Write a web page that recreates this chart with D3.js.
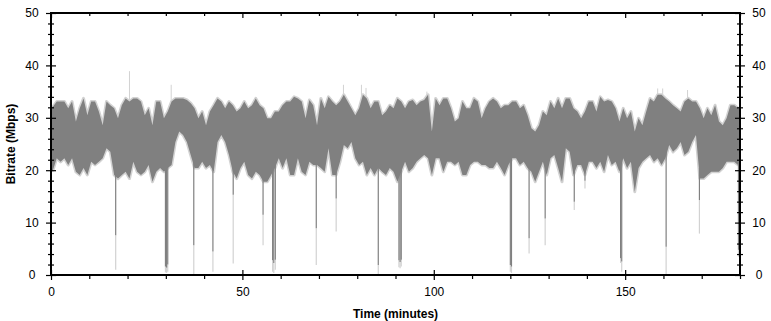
<!DOCTYPE html>
<html><head><meta charset="utf-8">
<script src="https://cdn.jsdelivr.net/npm/d3@7"></script>
<style>body{margin:0;background:#fff}svg{display:block}text{font-family:Arial,"Liberation Sans",sans-serif}</style>
</head><body><svg id="c" width="771" height="321"></svg>
<script>
// per-minute maximum of the dark trace (Mbps), minute 0..179
const hi = [32.1,33.1,33.1,33.1,31.8,33.1,29.3,31.8,33.7,30.5,33.1,33.1,31.2,28.6,33.1,32.4,31.8,29.9,32.4,33.7,33.1,33.7,33.7,33.1,30.5,31.8,28.6,33.1,33.1,29.9,
31.2,33.1,33.7,33.7,33.7,33.4,32.8,31.8,29.9,31.2,28.6,31.2,32.4,33.7,33.1,31.8,33.1,32.4,31.2,31.8,33.1,31.8,32.4,33.7,32.4,31.8,29.9,29.9,31.2,31.2,
32.4,33.1,33.1,34.0,33.7,33.1,29.9,33.4,32.4,28.6,33.7,31.8,34.0,33.1,32.4,33.1,34.4,33.1,31.8,30.5,31.8,34.4,33.7,31.8,33.1,33.1,30.5,31.2,32.4,31.8,
33.7,33.1,31.8,33.1,33.4,32.4,33.1,33.4,34.4,27.4,33.7,32.4,33.7,33.7,31.8,29.3,29.9,33.1,31.8,31.8,33.7,33.1,29.9,31.8,33.1,33.7,33.1,31.8,32.4,32.4,
33.1,33.1,31.8,32.4,30.5,28.0,27.4,28.6,31.2,30.5,33.1,31.8,33.7,31.8,33.7,33.7,31.8,31.2,29.9,31.2,33.1,33.1,31.2,34.0,33.1,33.4,33.1,31.8,29.3,31.8,
29.9,31.2,27.4,29.9,28.6,31.2,33.7,33.1,34.4,34.4,33.7,33.1,32.4,31.8,31.2,33.1,33.7,33.1,33.1,31.8,29.9,31.8,30.5,32.4,29.3,28.6,29.9,32.4,32.4,31.8];
// per-minute minimum of the dark trace (Mbps)
const lo = [20.0,22.3,21.6,22.3,21.0,22.3,19.7,19.1,20.4,19.1,21.6,21.0,21.6,22.3,24.2,23.5,19.1,18.4,19.1,19.7,18.4,21.6,19.7,19.1,19.7,21.0,17.8,19.7,20.4,19.7,
20.4,21.0,25.4,27.4,26.7,25.4,22.9,20.4,20.4,21.6,20.4,21.0,19.7,25.4,26.7,25.4,22.9,19.7,18.4,20.4,21.6,19.1,18.4,19.7,19.1,17.8,17.8,19.1,20.4,22.3,
20.4,22.3,19.1,19.1,22.3,19.7,19.1,21.6,21.0,21.0,20.4,19.7,24.2,19.1,19.1,21.6,24.8,24.2,25.4,22.3,21.0,21.6,19.1,20.4,19.1,20.4,19.7,19.1,20.4,19.7,
17.8,19.7,21.6,19.7,20.4,21.6,22.3,22.9,22.3,19.1,22.3,22.3,19.7,21.6,21.6,21.0,21.6,19.1,19.1,21.0,21.6,21.6,21.0,21.0,20.4,20.4,21.6,20.4,19.1,21.0,
22.3,22.3,21.0,21.6,20.4,19.7,17.8,19.7,21.6,19.1,22.3,22.9,20.4,17.8,24.2,23.5,19.1,21.0,21.0,19.1,21.6,21.6,20.4,21.6,19.7,22.9,21.0,21.6,19.7,22.3,
20.4,21.6,15.9,20.4,21.6,22.3,22.9,21.6,22.3,21.0,22.3,24.8,23.5,24.2,25.4,22.9,23.5,25.4,26.7,18.4,18.4,19.1,19.7,19.7,19.7,20.4,21.6,21.6,21.6,21.0];
// sharp drops: time (min), lowest dark value, lowest light value
const dipTime  = [16.9,29.9,30.2,30.5,37.3,42.3,47.6,55.4,57.9,58.2,58.6,69.3,74.5,85.5,90.9,91.2,91.5,120.0,120.3,124.9,129.1,136.7,139.5,148.8,149.1,160.7,169.4,179.6,179.9];
const dipDark  = [7.6,1.6,1.4,2.0,5.7,4.5,15.3,11.5,2.8,2.3,2.9,8.9,14.6,1.9,2.8,2.5,2.9,1.9,1.6,7.0,10.8,14.0,18.0,3.2,2.6,5.4,14.3,4.8,3.2];
const dipLight = [1.0,0.5,0.4,0.6,0.1,0.6,2.2,5.7,0.6,0.4,1.0,1.9,8.3,0.1,1.5,1.3,1.6,0.6,0.4,4.1,5.7,12.4,16.5,2.3,0.6,0.1,7.9,3.5,2.4];
// isolated upward light spikes
const peakTime = [20.5,31.4,76.4,81.1,82.3,98.2,158.5,159.8,166.3];
const peakVal  = [38.9,36.3,36.3,36.3,35.7,35.0,35.6,35.6,35.3];

const xTicks = [0,50,100,150];
const yTicks = [0,10,20,30,40,50];
const minutes = d3.range(hi.length);

const svg = d3.select('#c');
const L=51,R=740,T=13,B=275;
const x = d3.scaleLinear().domain([0,180]).range([L,R]);
const y = d3.scaleLinear().domain([0,50]).range([B,T]);
const DARK='#808080', LIGHT='#d2d2d2';

svg.append('clipPath').attr('id','pc').append('rect').attr('x',L).attr('y',T).attr('width',R-L).attr('height',B-T);
const g = svg.append('g').attr('clip-path','url(#pc)');

const area = d3.area().x(m=>x(m+0.5)).y0(m=>y(lo[m])).y1(m=>y(hi[m]));
const ext = [-0.5, ...minutes, 179.5];
const areaExt = d3.area().x(m=>x(Math.min(180,Math.max(0,m+0.5))))
  .y0(m=>y(lo[Math.max(0,Math.min(179,Math.floor(m)))])).y1(m=>y(hi[Math.max(0,Math.min(179,Math.floor(m)))]));

// peaks (light)
g.selectAll('.pk').data(peakTime).join('line')
  .attr('x1',d=>x(d)).attr('x2',d=>x(d))
  .attr('y1',(d,i)=>y(peakVal[i])).attr('y2',(d,i)=>y(hi[Math.floor(d)]-1))
  .attr('stroke',LIGHT).attr('stroke-width',1);

// light fringe
g.append('path').attr('d',areaExt(ext)).attr('fill',LIGHT).attr('stroke',LIGHT)
  .attr('stroke-width',3).attr('stroke-linejoin','round');
// dips light part
g.selectAll('.dl').data(dipTime).join('line')
  .attr('x1',d=>x(d)).attr('x2',d=>x(d))
  .attr('y1',(d,i)=>y(dipDark[i])).attr('y2',(d,i)=>y(dipLight[i]))
  .attr('stroke',LIGHT).attr('stroke-width',1.2);
// dark band
g.append('path').attr('d',areaExt(ext)).attr('fill',DARK).attr('stroke','none');
// dips dark part
g.selectAll('.dd').data(dipTime).join('line')
  .attr('x1',d=>x(d)).attr('x2',d=>x(d))
  .attr('y1',(d,i)=>y(lo[Math.floor(d)]+2)).attr('y2',(d,i)=>y(dipDark[i]))
  .attr('stroke',DARK).attr('stroke-width',1.2);

// axes
function styleAxis(sel){ sel.select('.domain').remove(); sel.selectAll('line').attr('stroke','#000').attr('stroke-width',1.2);
  sel.selectAll('text').attr('fill','#000').style('font-size','12px').style('font-family','Arial, "Liberation Sans", sans-serif'); }
const minorY = d3.range(0,51,2).filter(v=>v%10);
const minorX = d3.range(0,181,10).filter(v=>v%50);

// left
svg.append('g').attr('transform',`translate(${L},0)`).call(d3.axisLeft(y).tickValues(yTicks).tickSize(5).tickPadding(0).tickFormat(d3.format('d'))).call(styleAxis)
  .selectAll('text').attr('text-anchor','middle').attr('x',-19);
svg.append('g').attr('transform',`translate(${L},0)`).call(d3.axisLeft(y).tickValues(yTicks).tickSize(-5).tickFormat('')).call(styleAxis);
svg.append('g').attr('transform',`translate(${L},0)`).call(d3.axisLeft(y).tickValues(minorY).tickSize(3).tickFormat('')).call(styleAxis);
svg.append('g').attr('transform',`translate(${L},0)`).call(d3.axisLeft(y).tickValues(minorY).tickSize(-3).tickFormat('')).call(styleAxis);
// right
svg.append('g').attr('transform',`translate(${R},0)`).call(d3.axisRight(y).tickValues(yTicks).tickSize(5).tickPadding(0).tickFormat(d3.format('d'))).call(styleAxis)
  .selectAll('text').attr('text-anchor','middle').attr('x',19);
svg.append('g').attr('transform',`translate(${R},0)`).call(d3.axisRight(y).tickValues(yTicks).tickSize(-5).tickFormat('')).call(styleAxis);
svg.append('g').attr('transform',`translate(${R},0)`).call(d3.axisRight(y).tickValues(minorY).tickSize(3).tickFormat('')).call(styleAxis);
svg.append('g').attr('transform',`translate(${R},0)`).call(d3.axisRight(y).tickValues(minorY).tickSize(-3).tickFormat('')).call(styleAxis);
// bottom
svg.append('g').attr('transform',`translate(0,${B})`).call(d3.axisBottom(x).tickValues(xTicks).tickSize(5).tickPadding(7).tickFormat(d3.format('d'))).call(styleAxis);
svg.append('g').attr('transform',`translate(0,${B})`).call(d3.axisBottom(x).tickValues(xTicks).tickSize(-5).tickFormat('')).call(styleAxis);
svg.append('g').attr('transform',`translate(0,${B})`).call(d3.axisBottom(x).tickValues(minorX).tickSize(4).tickFormat('')).call(styleAxis);
// top
svg.append('g').attr('transform',`translate(0,${T})`).call(d3.axisTop(x).tickValues(xTicks).tickSize(-5).tickFormat('')).call(styleAxis);
svg.append('g').attr('transform',`translate(0,${T})`).call(d3.axisTop(x).tickValues(minorX).tickSize(-3).tickFormat('')).call(styleAxis);

// frame
svg.append('rect').attr('x',L).attr('y',T).attr('width',R-L).attr('height',B-T)
  .attr('fill','none').attr('stroke','#000').attr('stroke-width',2);

// titles
svg.append('text').attr('x',(L+R)/2).attr('y',318).attr('text-anchor','middle')
  .style('font-size','12px').style('font-weight','bold').text('Time (minutes)');
svg.append('text').attr('transform',`translate(15,${(T+B)/2}) rotate(-90)`).attr('text-anchor','middle')
  .style('font-size','12px').style('font-weight','bold').text('Bitrate (Mbps)');
</script></body></html>
